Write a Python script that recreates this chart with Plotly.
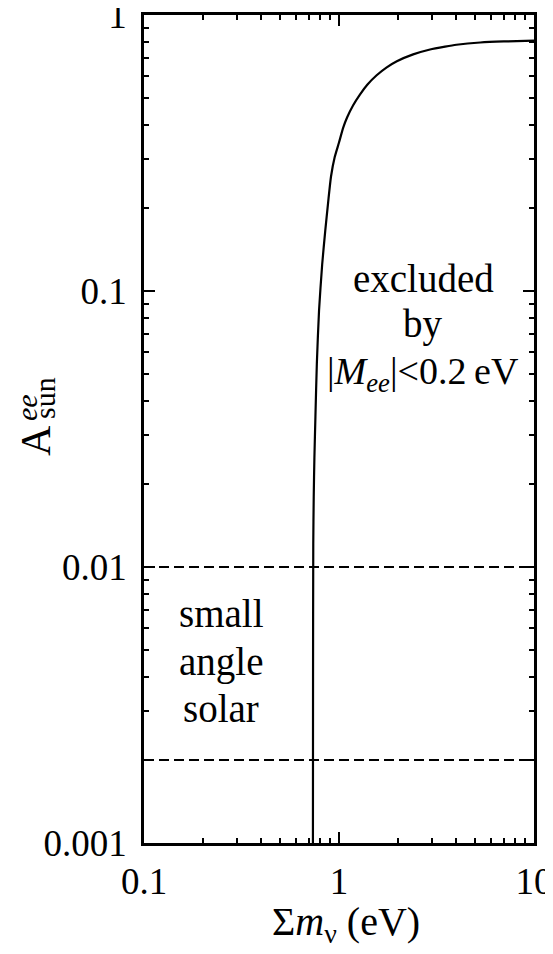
import plotly.graph_objects as go

# Curve: boundary of region excluded by |M_ee| < 0.2 eV
SUM_MNU = [0.735, 0.736, 0.738, 0.742, 0.748, 0.757, 0.77, 0.79, 0.82, 0.85, 0.88,
           0.91, 0.95, 1.00, 1.05, 1.10, 1.18, 1.28, 1.40, 1.56, 1.75, 1.98, 2.4,
           2.93, 3.5, 4.0, 5.3, 7.0, 10.0]
A_SUN_EE = [0.001, 0.004, 0.0122, 0.018, 0.025, 0.035, 0.055, 0.085, 0.125, 0.165, 0.21,
            0.26, 0.305, 0.345, 0.39, 0.425, 0.47, 0.515, 0.56, 0.605, 0.645, 0.68, 0.72,
            0.75, 0.768, 0.78, 0.795, 0.802, 0.807]

# Small-angle solar band
SMA_LEVELS = [0.01, 0.002]

X_TICKS = [0.1, 1, 10]
X_TICK_LABELS = ["0.1", "1", "10"]
Y_TICKS = [0.001, 0.01, 0.1, 1]
Y_TICK_LABELS = ["0.001", "0.01", "0.1", "1"]

FONT = "Liberation Serif, Times New Roman, serif"
W, H = 553, 954
OFF = 8  # page body margin: the figure is drawn 8px right/down in the window

# plot frame in window pixels
FL, FR, FT, FB = 144, 534, 15, 843

fig = go.Figure()

fig.add_trace(go.Scatter(
    x=SUM_MNU, y=A_SUN_EE, mode="lines",
    line=dict(color="black", width=2.2, shape="spline", smoothing=0.6),
    showlegend=False, hoverinfo="skip",
))

for lvl in SMA_LEVELS:
    fig.add_hline(y=lvl, line=dict(color="black", width=2, dash="10px,5px"))

axis_common = dict(
    type="log", automargin=False,
    showgrid=False, zeroline=False,
    showline=True, linecolor="black", linewidth=2.5, mirror="allticks",
    ticks="inside", ticklen=11, tickwidth=2, tickcolor="black",
    minor=dict(ticks="inside", ticklen=5, tickwidth=2, tickcolor="black",
               dtick="D1", showgrid=False),
    tickfont=dict(family=FONT, size=37, color="black"),
    ticklabeloverflow="allow",
)

fig.update_xaxes(
    **axis_common,
    range=[-1, 1],
    tickvals=X_TICKS, ticktext=X_TICK_LABELS,
    ticklabelstandoff=4,
)
fig.update_yaxes(
    **axis_common,
    range=[-3, 0],
    tickvals=Y_TICKS, ticktext=Y_TICK_LABELS,
    ticklabelstandoff=7,
)


def px(xp):
    return (xp - FL) / (FR - FL)


def py(yp):
    return (FB - yp) / (FB - FT)


def label(text, x, y, size, angle=0):
    fig.add_annotation(
        text=text, x=px(x), y=py(y), xref="paper", yref="paper",
        xanchor="center", yanchor="middle", showarrow=False, textangle=angle,
        font=dict(family=FONT, size=size, color="black"),
    )


# axis titles as annotations (y title has stacked super/subscript)
label("Σ<i>m</i><sub>ν</sub> (eV)", 346, 924, 40)
label("A", 36, 441, 42, -90)
label("<i>ee</i>", 26, 408, 30, -90)
label("sun", 45, 398, 30, -90)

label("excluded", 423, 278, 39)
label("by", 423, 324, 39)
label("|<i>M</i><sub><i>ee</i></sub>|&lt;0.2\u2009eV", 423, 374, 38)
label("small", 221, 613, 39)
label("angle", 221, 662, 39)
label("solar", 221, 708, 39)

fig.update_layout(
    width=W, height=H,
    margin=dict(l=FL - OFF, r=W - (FR - OFF), t=FT - OFF, b=H - (FB - OFF)),
    paper_bgcolor="white", plot_bgcolor="white",
    font=dict(family=FONT, color="black"),
    showlegend=False,
)

fig.write_html("out.html")
